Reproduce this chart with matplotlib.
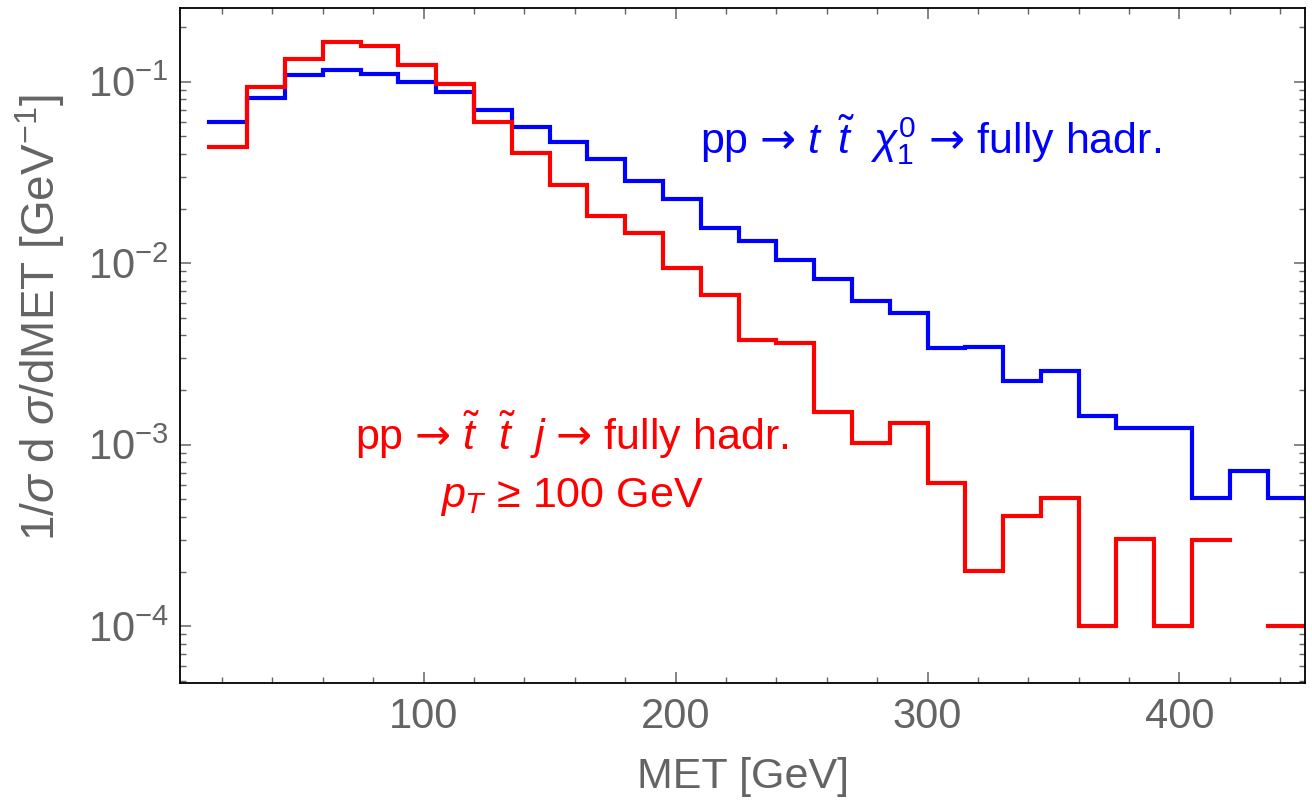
import numpy as np
import matplotlib
matplotlib.use("Agg")
import matplotlib.pyplot as plt

plt.rcParams['font.family'] = ['Liberation Sans', 'DejaVu Sans']
plt.rcParams['mathtext.fontset'] = 'custom'
plt.rcParams['mathtext.rm'] = 'Liberation Sans'
plt.rcParams['mathtext.it'] = 'Liberation Sans:italic'
plt.rcParams['mathtext.bf'] = 'Liberation Sans:bold'
plt.rcParams['mathtext.sf'] = 'DejaVu Sans'

# bin edges (GeV), width 15 from 15 to 450
bin_edges = np.arange(15, 451, 15)

# signal: pp -> t t~ chi_1^0 -> fully hadronic (blue)
blue_vals = [0.0597, 0.0816, 0.109, 0.116, 0.110, 0.100, 0.0874, 0.0698,
             0.0565, 0.0467, 0.0375, 0.0284, 0.0226, 0.0157, 0.0133, 0.0104,
             0.00815, 0.00616, 0.00533, 0.0034, 0.00347, 0.00225, 0.00256,
             0.00144, 0.00123, 0.00123, 0.00051, 0.00072, 0.00051]

# background: pp -> t~ t~ j -> fully hadronic, pT >= 100 GeV (red); nan = empty bin
red_vals = [0.0439, 0.0938, 0.133, 0.166, 0.158, 0.123, 0.0968, 0.0603,
            0.0407, 0.027, 0.0183, 0.0146, 0.00937, 0.00668, 0.00376, 0.00365,
            0.00152, 0.00102, 0.00132, 0.000612, 0.000202, 0.000405, 0.000507,
            0.0001, 0.000303, 0.0001, 0.0003, np.nan, 0.0001]

x_ticks = [100, 200, 300, 400]
gray = '#646464'
ARR = r'$\mathsf{→}$'

fig = plt.figure(figsize=(13.12, 8.0), dpi=100)
ax = fig.add_axes([0.137, 0.146, 0.858, 0.844])

for vals, col in [(blue_vals, '#0000ff'), (red_vals, '#ff0000')]:
    y = np.append(vals, vals[-1])
    ax.plot(bin_edges, y, drawstyle='steps-post', color=col, lw=3.0,
            solid_joinstyle='miter')

ax.set_yscale('log')
ax.set_xlim(3.2, 450)
ax.set_ylim(4.85e-5, 0.2547)
ax.set_xticks(x_ticks)
ax.set_xticks(np.arange(20, 451, 20), minor=True)

for s in ax.spines.values():
    s.set_color('black')
    s.set_linewidth(1.3)

ax.tick_params(which='both', direction='in', top=True, right=True,
               colors=gray, labelcolor=gray, labelsize=30)
ax.tick_params(which='major', length=8, width=1.1)
ax.tick_params(which='minor', length=4.5, width=1.0)
ax.tick_params(axis='x', pad=10)
ax.tick_params(axis='y', pad=8)

ax.set_xlabel('MET [GeV]', fontsize=31, color=gray, labelpad=14)
ax.set_ylabel(r'1/$\sigma$ d $\sigma$/dMET [GeV$^{-1}$]', fontsize=33,
              color=gray)
ax.yaxis.set_label_coords(-0.100, 0.541)

ax.text(301, 0.048, 'pp ' + ARR + r' $t\ \,\tilde{t}\ \ \chi_1^0$ ' + ARR + ' fully hadr.',
        color='#0000ff', fontsize=31, ha='center', va='center')
ax.text(158.7, 0.00113, 'pp ' + ARR + r' $\tilde{t}\ \ \tilde{t}\ \ j$ ' + ARR + ' fully hadr.',
        color='#ff0000', fontsize=31, ha='center', va='center')
ax.text(158.7, 0.000515, r'$p_T$ ≥ 100 GeV',
        color='#ff0000', fontsize=31, ha='center', va='center')

fig.savefig('out.png', dpi=100)
